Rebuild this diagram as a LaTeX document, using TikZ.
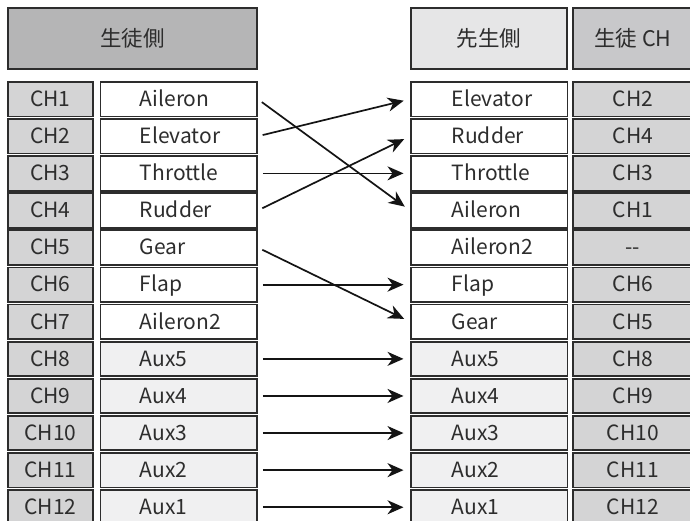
\documentclass[tikz,border=0pt]{standalone}
\usepackage{fontspec}
\setmainfont{Noto Sans CJK JP}
\usetikzlibrary{arrows.meta}
\definecolor{bordercol}{RGB}{45,45,45}
\definecolor{txt}{RGB}{45,45,45}
\definecolor{hdrL}{RGB}{181,181,182}
\definecolor{hdrM}{RGB}{230,230,231}
\definecolor{hdrR}{RGB}{200,200,202}
\definecolor{chfill}{RGB}{212,212,213}
\definecolor{auxfill}{RGB}{240,240,241}
\definecolor{arrowcol}{RGB}{20,20,20}
\begin{document}
\begin{tikzpicture}[x=1pt,y=-1pt,
  cell/.style={draw=bordercol, line width=1.8pt, minimum height=34.5pt, inner sep=0pt,
    text height=14.5pt, text depth=0pt, anchor=north west,
    font=\fontsize{21}{24}\selectfont, text=txt},
  hdr/.style={draw=bordercol, line width=1.8pt, minimum height=61pt, inner sep=0pt,
    anchor=north west, font=\fontsize{21.5}{24}\selectfont, text=txt},
  chcell/.style={cell, fill=chfill, minimum width=85pt},
  rchcell/.style={cell, fill=chfill, minimum width=120pt},
  namecell/.style={cell, minimum width=156.5pt, text width=156.5pt, align=left},
  link/.style={draw=arrowcol, line width=1.7pt,
    -{Stealth[length=16pt,width=14pt,inset=5pt]},
    shorten <=5pt, shorten >=6.5pt}]
\useasboundingbox (0,0) rectangle (690,520);
\clip (0,0) rectangle (690,520);
\fill[white] (0,0) rectangle (690,520);

\node[hdr, fill=hdrL, minimum width=249pt] (hL) at (7,7) {生徒側};
\node[hdr, fill=hdrM, minimum width=156pt] (hM) at (410,7) {先生側};
\node[hdr, fill=hdrR, minimum width=120pt] (hR) at (572,7) {生徒 CH};

\foreach \i/\ln/\rn/\rc in {1/Aileron/Elevator/CH2, 2/Elevator/Rudder/CH4,
   3/Throttle/Throttle/CH3, 4/Rudder/Aileron/CH1, 5/Gear/Aileron2/{{-}{-}},
   6/Flap/Flap/CH6, 7/Aileron2/Gear/CH5, 8/Aux5/Aux5/CH8, 9/Aux4/Aux4/CH9,
   10/Aux3/Aux3/CH10, 11/Aux2/Aux2/CH11, 12/Aux1/Aux1/CH12} {
  \pgfmathsetmacro{\yy}{81+(\i-1)*37.1}
  \ifnum\i>7 \def\nf{auxfill}\else\def\nf{white}\fi
  \node[chcell] (lc\i) at (7,\yy) {CH\i};
  \node[namecell, fill=\nf] (ln\i) at (99.5,\yy) {\hspace*{39.5pt}\ln};
  \node[namecell, fill=\nf] (rn\i) at (410,\yy) {\hspace*{41pt}\rn};
  \node[rchcell] (rc\i) at (572,\yy) {\rc};
}

\draw[link] (ln1.east) -- (rn4.west);
\draw[link] (ln2.east) -- (rn1.west);
\draw[link] (ln3.east) -- (rn3.west);
\draw[link] (ln4.east) -- (rn2.west);
\draw[link] (ln5.east) -- (rn7.west);
\draw[link] (ln6.east) -- (rn6.west);
\foreach \i in {8,...,12} {\draw[link] (ln\i.east) -- (rn\i.west);}
\end{tikzpicture}
\end{document}
